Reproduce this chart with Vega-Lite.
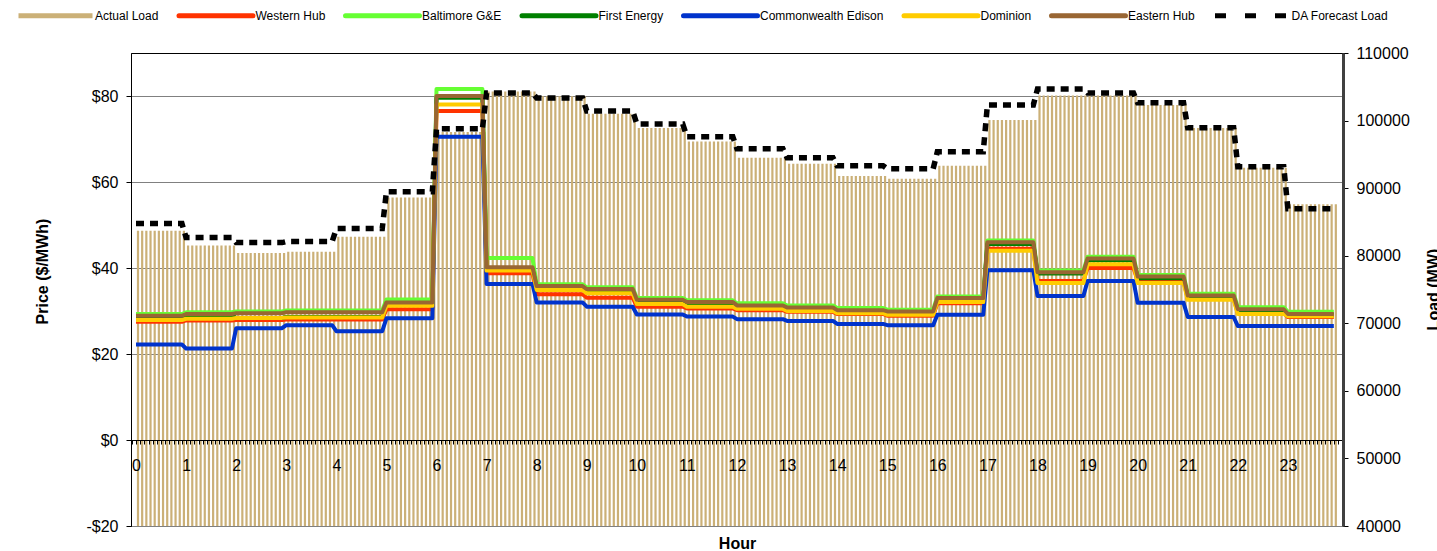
{
"$schema": "https://vega.github.io/schema/vega-lite/v6.json",
"width": 1212, "height": 473,
"autosize": {"type": "none"},
"padding": {"left": 131, "top": 53, "right": 94, "bottom": 25},
"background": "white",
"config": {"font": "Liberation Sans", "view": {"stroke": "#000", "strokeWidth": 1}},
"datasets": {
"bars": [
{"i":0,"load":83700},{"i":1,"load":83700},{"i":2,"load":83700},{"i":3,"load":83700},{"i":4,"load":83700},{"i":5,"load":83700},{"i":6,"load":83700},{"i":7,"load":83700},{"i":8,"load":83700},{"i":9,"load":83700},{"i":10,"load":83700},{"i":11,"load":83700},
{"i":12,"load":81500},{"i":13,"load":81500},{"i":14,"load":81500},{"i":15,"load":81500},{"i":16,"load":81500},{"i":17,"load":81500},{"i":18,"load":81500},{"i":19,"load":81500},{"i":20,"load":81500},{"i":21,"load":81500},{"i":22,"load":81500},{"i":23,"load":81500},
{"i":24,"load":80400},{"i":25,"load":80400},{"i":26,"load":80400},{"i":27,"load":80400},{"i":28,"load":80400},{"i":29,"load":80400},{"i":30,"load":80400},{"i":31,"load":80400},{"i":32,"load":80400},{"i":33,"load":80400},{"i":34,"load":80400},{"i":35,"load":80400},
{"i":36,"load":80600},{"i":37,"load":80600},{"i":38,"load":80600},{"i":39,"load":80600},{"i":40,"load":80600},{"i":41,"load":80600},{"i":42,"load":80600},{"i":43,"load":80600},{"i":44,"load":80600},{"i":45,"load":80600},{"i":46,"load":80600},{"i":47,"load":80600},
{"i":48,"load":82800},{"i":49,"load":82800},{"i":50,"load":82800},{"i":51,"load":82800},{"i":52,"load":82800},{"i":53,"load":82800},{"i":54,"load":82800},{"i":55,"load":82800},{"i":56,"load":82800},{"i":57,"load":82800},{"i":58,"load":82800},{"i":59,"load":82800},
{"i":60,"load":88600},{"i":61,"load":88600},{"i":62,"load":88600},{"i":63,"load":88600},{"i":64,"load":88600},{"i":65,"load":88600},{"i":66,"load":88600},{"i":67,"load":88600},{"i":68,"load":88600},{"i":69,"load":88600},{"i":70,"load":88600},{"i":71,"load":88600},
{"i":72,"load":98300},{"i":73,"load":98300},{"i":74,"load":98300},{"i":75,"load":98300},{"i":76,"load":98300},{"i":77,"load":98300},{"i":78,"load":98300},{"i":79,"load":98300},{"i":80,"load":98300},{"i":81,"load":98300},{"i":82,"load":98300},{"i":83,"load":98300},
{"i":84,"load":104300},{"i":85,"load":104300},{"i":86,"load":104300},{"i":87,"load":104300},{"i":88,"load":104300},{"i":89,"load":104300},{"i":90,"load":104300},{"i":91,"load":104300},{"i":92,"load":104300},{"i":93,"load":104300},{"i":94,"load":104300},{"i":95,"load":104300},
{"i":96,"load":103600},{"i":97,"load":103600},{"i":98,"load":103600},{"i":99,"load":103600},{"i":100,"load":103600},{"i":101,"load":103600},{"i":102,"load":103600},{"i":103,"load":103600},{"i":104,"load":103600},{"i":105,"load":103600},{"i":106,"load":103600},{"i":107,"load":103600},
{"i":108,"load":101000},{"i":109,"load":101000},{"i":110,"load":101000},{"i":111,"load":101000},{"i":112,"load":101000},{"i":113,"load":101000},{"i":114,"load":101000},{"i":115,"load":101000},{"i":116,"load":101000},{"i":117,"load":101000},{"i":118,"load":101000},{"i":119,"load":101000},
{"i":120,"load":98900},{"i":121,"load":98900},{"i":122,"load":98900},{"i":123,"load":98900},{"i":124,"load":98900},{"i":125,"load":98900},{"i":126,"load":98900},{"i":127,"load":98900},{"i":128,"load":98900},{"i":129,"load":98900},{"i":130,"load":98900},{"i":131,"load":98900},
{"i":132,"load":96900},{"i":133,"load":96900},{"i":134,"load":96900},{"i":135,"load":96900},{"i":136,"load":96900},{"i":137,"load":96900},{"i":138,"load":96900},{"i":139,"load":96900},{"i":140,"load":96900},{"i":141,"load":96900},{"i":142,"load":96900},{"i":143,"load":96900},
{"i":144,"load":94500},{"i":145,"load":94500},{"i":146,"load":94500},{"i":147,"load":94500},{"i":148,"load":94500},{"i":149,"load":94500},{"i":150,"load":94500},{"i":151,"load":94500},{"i":152,"load":94500},{"i":153,"load":94500},{"i":154,"load":94500},{"i":155,"load":94500},
{"i":156,"load":93600},{"i":157,"load":93600},{"i":158,"load":93600},{"i":159,"load":93600},{"i":160,"load":93600},{"i":161,"load":93600},{"i":162,"load":93600},{"i":163,"load":93600},{"i":164,"load":93600},{"i":165,"load":93600},{"i":166,"load":93600},{"i":167,"load":93600},
{"i":168,"load":91800},{"i":169,"load":91800},{"i":170,"load":91800},{"i":171,"load":91800},{"i":172,"load":91800},{"i":173,"load":91800},{"i":174,"load":91800},{"i":175,"load":91800},{"i":176,"load":91800},{"i":177,"load":91800},{"i":178,"load":91800},{"i":179,"load":91800},
{"i":180,"load":91400},{"i":181,"load":91400},{"i":182,"load":91400},{"i":183,"load":91400},{"i":184,"load":91400},{"i":185,"load":91400},{"i":186,"load":91400},{"i":187,"load":91400},{"i":188,"load":91400},{"i":189,"load":91400},{"i":190,"load":91400},{"i":191,"load":91400},
{"i":192,"load":93300},{"i":193,"load":93300},{"i":194,"load":93300},{"i":195,"load":93300},{"i":196,"load":93300},{"i":197,"load":93300},{"i":198,"load":93300},{"i":199,"load":93300},{"i":200,"load":93300},{"i":201,"load":93300},{"i":202,"load":93300},{"i":203,"load":93300},
{"i":204,"load":100100},{"i":205,"load":100100},{"i":206,"load":100100},{"i":207,"load":100100},{"i":208,"load":100100},{"i":209,"load":100100},{"i":210,"load":100100},{"i":211,"load":100100},{"i":212,"load":100100},{"i":213,"load":100100},{"i":214,"load":100100},{"i":215,"load":100100},
{"i":216,"load":103700},{"i":217,"load":103700},{"i":218,"load":103700},{"i":219,"load":103700},{"i":220,"load":103700},{"i":221,"load":103700},{"i":222,"load":103700},{"i":223,"load":103700},{"i":224,"load":103700},{"i":225,"load":103700},{"i":226,"load":103700},{"i":227,"load":103700},
{"i":228,"load":103700},{"i":229,"load":103700},{"i":230,"load":103700},{"i":231,"load":103700},{"i":232,"load":103700},{"i":233,"load":103700},{"i":234,"load":103700},{"i":235,"load":103700},{"i":236,"load":103700},{"i":237,"load":103700},{"i":238,"load":103700},{"i":239,"load":103700},
{"i":240,"load":102300},{"i":241,"load":102300},{"i":242,"load":102300},{"i":243,"load":102300},{"i":244,"load":102300},{"i":245,"load":102300},{"i":246,"load":102300},{"i":247,"load":102300},{"i":248,"load":102300},{"i":249,"load":102300},{"i":250,"load":102300},{"i":251,"load":102300},
{"i":252,"load":98900},{"i":253,"load":98900},{"i":254,"load":98900},{"i":255,"load":98900},{"i":256,"load":98900},{"i":257,"load":98900},{"i":258,"load":98900},{"i":259,"load":98900},{"i":260,"load":98900},{"i":261,"load":98900},{"i":262,"load":98900},{"i":263,"load":98900},
{"i":264,"load":93000},{"i":265,"load":93000},{"i":266,"load":93000},{"i":267,"load":93000},{"i":268,"load":93000},{"i":269,"load":93000},{"i":270,"load":93000},{"i":271,"load":93000},{"i":272,"load":93000},{"i":273,"load":93000},{"i":274,"load":93000},{"i":275,"load":93000},
{"i":276,"load":87600},{"i":277,"load":87600},{"i":278,"load":87600},{"i":279,"load":87600},{"i":280,"load":87600},{"i":281,"load":87600},{"i":282,"load":87600},{"i":283,"load":87600},{"i":284,"load":87600},{"i":285,"load":87600},{"i":286,"load":87600},{"i":287,"load":87600}
],
"hourly": [
{"i":0,"Western Hub":27.5,"Baltimore G&E":29.3,"First Energy":28.7,"Commonwealth Edison":22.2,"Dominion":27.9,"Eastern Hub":28.9,"DA":84750},
{"i":11,"Western Hub":27.5,"Baltimore G&E":29.3,"First Energy":28.7,"Commonwealth Edison":22.2,"Dominion":27.9,"Eastern Hub":28.9,"DA":84750},
{"i":12,"Western Hub":27.8,"Baltimore G&E":29.7,"First Energy":29.0,"Commonwealth Edison":21.3,"Dominion":28.2,"Eastern Hub":29.3,"DA":82680},
{"i":23,"Western Hub":27.8,"Baltimore G&E":29.7,"First Energy":29.0,"Commonwealth Edison":21.3,"Dominion":28.2,"Eastern Hub":29.3,"DA":82680},
{"i":24,"Western Hub":27.9,"Baltimore G&E":29.9,"First Energy":28.4,"Commonwealth Edison":26.0,"Dominion":28.4,"Eastern Hub":29.5,"DA":81940},
{"i":35,"Western Hub":27.9,"Baltimore G&E":29.9,"First Energy":28.4,"Commonwealth Edison":26.0,"Dominion":28.4,"Eastern Hub":29.5,"DA":81940},
{"i":36,"Western Hub":28.0,"Baltimore G&E":30.1,"First Energy":28.6,"Commonwealth Edison":26.7,"Dominion":28.5,"Eastern Hub":29.7,"DA":82090},
{"i":47,"Western Hub":28.0,"Baltimore G&E":30.1,"First Energy":28.6,"Commonwealth Edison":26.7,"Dominion":28.5,"Eastern Hub":29.7,"DA":82090},
{"i":48,"Western Hub":28.0,"Baltimore G&E":30.1,"First Energy":28.6,"Commonwealth Edison":25.3,"Dominion":28.5,"Eastern Hub":29.7,"DA":84010},
{"i":59,"Western Hub":28.0,"Baltimore G&E":30.1,"First Energy":28.6,"Commonwealth Edison":25.3,"Dominion":28.5,"Eastern Hub":29.7,"DA":84010},
{"i":60,"Western Hub":30.4,"Baltimore G&E":32.7,"First Energy":31.6,"Commonwealth Edison":28.3,"Dominion":31.2,"Eastern Hub":32.0,"DA":89470},
{"i":71,"Western Hub":30.4,"Baltimore G&E":32.7,"First Energy":31.6,"Commonwealth Edison":28.3,"Dominion":31.2,"Eastern Hub":32.0,"DA":89470},
{"i":72,"Western Hub":76.5,"Baltimore G&E":81.6,"First Energy":79.6,"Commonwealth Edison":70.5,"Dominion":78.0,"Eastern Hub":80.0,"DA":98780},
{"i":83,"Western Hub":76.5,"Baltimore G&E":81.6,"First Energy":79.6,"Commonwealth Edison":70.5,"Dominion":78.0,"Eastern Hub":80.0,"DA":98780},
{"i":84,"Western Hub":38.8,"Baltimore G&E":42.3,"First Energy":39.8,"Commonwealth Edison":36.3,"Dominion":39.4,"Eastern Hub":40.2,"DA":104090},
{"i":95,"Western Hub":38.8,"Baltimore G&E":42.3,"First Energy":39.8,"Commonwealth Edison":36.3,"Dominion":39.4,"Eastern Hub":40.2,"DA":104090},
{"i":96,"Western Hub":33.9,"Baltimore G&E":36.2,"First Energy":35.4,"Commonwealth Edison":32.0,"Dominion":34.9,"Eastern Hub":35.8,"DA":103350},
{"i":107,"Western Hub":33.9,"Baltimore G&E":36.2,"First Energy":35.4,"Commonwealth Edison":32.0,"Dominion":34.9,"Eastern Hub":35.8,"DA":103350},
{"i":108,"Western Hub":33.1,"Baltimore G&E":35.5,"First Energy":34.7,"Commonwealth Edison":31.0,"Dominion":34.1,"Eastern Hub":35.1,"DA":101430},
{"i":119,"Western Hub":33.1,"Baltimore G&E":35.5,"First Energy":34.7,"Commonwealth Edison":31.0,"Dominion":34.1,"Eastern Hub":35.1,"DA":101430},
{"i":120,"Western Hub":31.0,"Baltimore G&E":33.0,"First Energy":32.3,"Commonwealth Edison":29.2,"Dominion":31.6,"Eastern Hub":32.6,"DA":99510},
{"i":131,"Western Hub":31.0,"Baltimore G&E":33.0,"First Energy":32.3,"Commonwealth Edison":29.2,"Dominion":31.6,"Eastern Hub":32.6,"DA":99510},
{"i":132,"Western Hub":30.6,"Baltimore G&E":32.5,"First Energy":31.8,"Commonwealth Edison":28.7,"Dominion":31.0,"Eastern Hub":32.1,"DA":97590},
{"i":143,"Western Hub":30.6,"Baltimore G&E":32.5,"First Energy":31.8,"Commonwealth Edison":28.7,"Dominion":31.0,"Eastern Hub":32.1,"DA":97590},
{"i":144,"Western Hub":30.2,"Baltimore G&E":31.8,"First Energy":31.0,"Commonwealth Edison":28.1,"Dominion":30.5,"Eastern Hub":31.3,"DA":95820},
{"i":155,"Western Hub":30.2,"Baltimore G&E":31.8,"First Energy":31.0,"Commonwealth Edison":28.1,"Dominion":30.5,"Eastern Hub":31.3,"DA":95820},
{"i":156,"Western Hub":29.8,"Baltimore G&E":31.3,"First Energy":30.5,"Commonwealth Edison":27.7,"Dominion":30.0,"Eastern Hub":30.8,"DA":94490},
{"i":167,"Western Hub":29.8,"Baltimore G&E":31.3,"First Energy":30.5,"Commonwealth Edison":27.7,"Dominion":30.0,"Eastern Hub":30.8,"DA":94490},
{"i":168,"Western Hub":29.3,"Baltimore G&E":30.7,"First Energy":29.9,"Commonwealth Edison":27.0,"Dominion":29.5,"Eastern Hub":30.2,"DA":93310},
{"i":179,"Western Hub":29.3,"Baltimore G&E":30.7,"First Energy":29.9,"Commonwealth Edison":27.0,"Dominion":29.5,"Eastern Hub":30.2,"DA":93310},
{"i":180,"Western Hub":28.9,"Baltimore G&E":30.3,"First Energy":29.6,"Commonwealth Edison":26.7,"Dominion":29.1,"Eastern Hub":29.9,"DA":92870},
{"i":191,"Western Hub":28.9,"Baltimore G&E":30.3,"First Energy":29.6,"Commonwealth Edison":26.7,"Dominion":29.1,"Eastern Hub":29.9,"DA":92870},
{"i":192,"Western Hub":31.8,"Baltimore G&E":33.4,"First Energy":32.6,"Commonwealth Edison":29.1,"Dominion":32.1,"Eastern Hub":33.0,"DA":95380},
{"i":203,"Western Hub":31.8,"Baltimore G&E":33.4,"First Energy":32.6,"Commonwealth Edison":29.1,"Dominion":32.1,"Eastern Hub":33.0,"DA":95380},
{"i":204,"Western Hub":44.5,"Baltimore G&E":46.4,"First Energy":45.6,"Commonwealth Edison":39.5,"Dominion":44.0,"Eastern Hub":46.0,"DA":102320},
{"i":215,"Western Hub":44.5,"Baltimore G&E":46.4,"First Energy":45.6,"Commonwealth Edison":39.5,"Dominion":44.0,"Eastern Hub":46.0,"DA":102320},
{"i":216,"Western Hub":37.0,"Baltimore G&E":39.4,"First Energy":38.7,"Commonwealth Edison":33.5,"Dominion":36.5,"Eastern Hub":39.0,"DA":104680},
{"i":227,"Western Hub":37.0,"Baltimore G&E":39.4,"First Energy":38.7,"Commonwealth Edison":33.5,"Dominion":36.5,"Eastern Hub":39.0,"DA":104680},
{"i":228,"Western Hub":40.0,"Baltimore G&E":42.6,"First Energy":41.8,"Commonwealth Edison":37.0,"Dominion":40.9,"Eastern Hub":42.2,"DA":104090},
{"i":239,"Western Hub":40.0,"Baltimore G&E":42.6,"First Energy":41.8,"Commonwealth Edison":37.0,"Dominion":40.9,"Eastern Hub":42.2,"DA":104090},
{"i":240,"Western Hub":37.0,"Baltimore G&E":38.4,"First Energy":37.6,"Commonwealth Edison":31.9,"Dominion":36.5,"Eastern Hub":38.0,"DA":102620},
{"i":251,"Western Hub":37.0,"Baltimore G&E":38.4,"First Energy":37.6,"Commonwealth Edison":31.9,"Dominion":36.5,"Eastern Hub":38.0,"DA":102620},
{"i":252,"Western Hub":32.9,"Baltimore G&E":34.0,"First Energy":33.3,"Commonwealth Edison":28.6,"Dominion":32.6,"Eastern Hub":33.6,"DA":98930},
{"i":263,"Western Hub":32.9,"Baltimore G&E":34.0,"First Energy":33.3,"Commonwealth Edison":28.6,"Dominion":32.6,"Eastern Hub":33.6,"DA":98930},
{"i":264,"Western Hub":29.5,"Baltimore G&E":30.9,"First Energy":30.1,"Commonwealth Edison":26.5,"Dominion":29.3,"Eastern Hub":30.4,"DA":93160},
{"i":275,"Western Hub":29.5,"Baltimore G&E":30.9,"First Energy":30.1,"Commonwealth Edison":26.5,"Dominion":29.3,"Eastern Hub":30.4,"DA":93160},
{"i":276,"Western Hub":28.6,"Baltimore G&E":29.8,"First Energy":29.0,"Commonwealth Edison":26.5,"Dominion":28.8,"Eastern Hub":29.3,"DA":86960},
{"i":287,"Western Hub":28.6,"Baltimore G&E":29.8,"First Energy":29.0,"Commonwealth Edison":26.5,"Dominion":28.8,"Eastern Hub":29.3,"DA":86960}
]
},
"encoding": {
  "x": {"field": "i", "type": "quantitative",
    "scale": {"domain": [0, 288], "nice": false, "zero": false},
    "axis": {"offset": -86, "tickCount": 288,
      "labelExpr": "(datum.value % 12 === 0 && datum.value < 288) ? '' + (datum.value / 12) : ''",
      "labelOverlap": false, "labelFlush": false, "labelBound": false,
      "tickSize": 4, "tickColor": "#000", "tickWidth": 1, "domainColor": "#000", "domainWidth": 1,
      "labelFont": "Liberation Sans", "labelFontSize": 16, "labelColor": "#000", "labelPadding": 13, "labelDx": 0,
      "grid": false, "title": "Hour", "titleFont": "Liberation Sans", "titleFontSize": 16, "titleFontWeight": "bold", "titleColor": "#000",
      "titleY": 95, "titleBaseline": "top", "zindex": 1}}
},
"layer": [
  {
    "data": {"name": "bars"},
    "mark": {"type": "bar", "size": 2.2, "xOffset": 2, "clip": true},
    "encoding": {
      "y": {"field": "load", "type": "quantitative",
        "scale": {"domain": [40000, 110000], "nice": false, "zero": false},
        "axis": {"orient": "right", "values": [40000, 50000, 60000, 70000, 80000, 90000, 100000, 110000], "format": "d",
          "grid": false, "tickSize": 5, "tickColor": "#000", "domainColor": "#404040", "domainWidth": 3,
          "labelFont": "Liberation Sans", "labelFontSize": 16, "labelColor": "#000", "labelPadding": 8,
          "title": "Load (MW)", "titleFont": "Liberation Sans", "titleFontSize": 16, "titleFontWeight": "bold", "titleColor": "#000",
          "titleAngle": 270, "titleX": 90, "titleY": 236, "titleBaseline": "middle", "titleAlign": "center", "zindex": 1}},
      "y2": {"datum": 40000},
      "color": {"datum": "Actual Load", "type": "nominal",
        "scale": {"domain": ["Actual Load", "Western Hub", "Baltimore G&E", "First Energy", "Commonwealth Edison", "Dominion", "Eastern Hub", "DA Forecast Load"],
                  "range": ["#CBB077", "#FF3300", "#66FF33", "#008000", "#0033CC", "#FFCC00", "#996633", "#000000"]},
        "legend": {"orient": "none", "legendX": -115, "legendY": -77, "direction": "horizontal", "columns": 8, "title": null,
          "symbolType": "stroke", "symbolSize": 5476, "symbolStrokeWidth": 5,
          "labelFont": "Liberation Sans", "labelFontSize": 12, "labelColor": "#000", "labelOffset": 0, "columnPadding": 9.5, "labelLimit": 0, "padding": 0,
          "encode": {"symbols": {"update": {
            "size": {"value": 5476},
            "strokeWidth": {"value": 5},
            "stroke": {"scale": "color", "field": "value"},
            "fill": {"value": "transparent"},
            "opacity": {"value": 1},
            "strokeCap": {"signal": "(datum.label === 'Actual Load' || datum.label === 'DA Forecast Load') ? 'butt' : 'round'"},
            "strokeDash": {"signal": "datum.label === 'DA Forecast Load' ? [11, 19] : []"}
          }}}}}
    }
  },
  {
    "data": {"name": "hourly"},
    "transform": [{"fold": ["Western Hub", "Baltimore G&E", "First Energy", "Commonwealth Edison", "Dominion", "Eastern Hub"], "as": ["series", "price"]}],
    "mark": {"type": "line", "strokeWidth": 4, "strokeJoin": "round"},
    "encoding": {
      "y": {"field": "price", "type": "quantitative",
        "scale": {"domain": [-20, 90], "nice": false, "zero": false},
        "axis": {"orient": "left", "values": [-20, 0, 20, 40, 60, 80],
          "labelExpr": "(datum.value < 0 ? '-$' : '$') + abs(datum.value)",
          "grid": true, "gridColor": "#808080", "gridWidth": 1, "tickSize": 5, "tickColor": "#000", "domainColor": "#000",
          "labelFont": "Liberation Sans", "labelFontSize": 16, "labelColor": "#000", "labelPadding": 8,
          "title": "Price ($/MWh)", "titleFont": "Liberation Sans", "titleFontSize": 16, "titleFontWeight": "bold", "titleColor": "#000",
          "titleY": 218, "titlePadding": 35}},
      "color": {"field": "series", "type": "nominal",
        "scale": {"domain": ["Actual Load", "Western Hub", "Baltimore G&E", "First Energy", "Commonwealth Edison", "Dominion", "Eastern Hub", "DA Forecast Load"],
                  "range": ["#CBB077", "#FF3300", "#66FF33", "#008000", "#0033CC", "#FFCC00", "#996633", "#000000"]},
        "legend": null}
    }
  },
  {
    "data": {"name": "hourly"},
    "mark": {"type": "line", "strokeWidth": 5.5, "strokeDash": [8, 6], "strokeCap": "butt"},
    "encoding": {
      "y": {"field": "DA", "type": "quantitative",
        "scale": {"domain": [40000, 110000], "nice": false, "zero": false}, "axis": null},
      "color": {"datum": "DA Forecast Load", "type": "nominal",
        "scale": {"domain": ["Actual Load", "Western Hub", "Baltimore G&E", "First Energy", "Commonwealth Edison", "Dominion", "Eastern Hub", "DA Forecast Load"],
                  "range": ["#CBB077", "#FF3300", "#66FF33", "#008000", "#0033CC", "#FFCC00", "#996633", "#000000"]},
        "legend": null}
    }
  }
],
"resolve": {"scale": {"y": "independent"}}
}
